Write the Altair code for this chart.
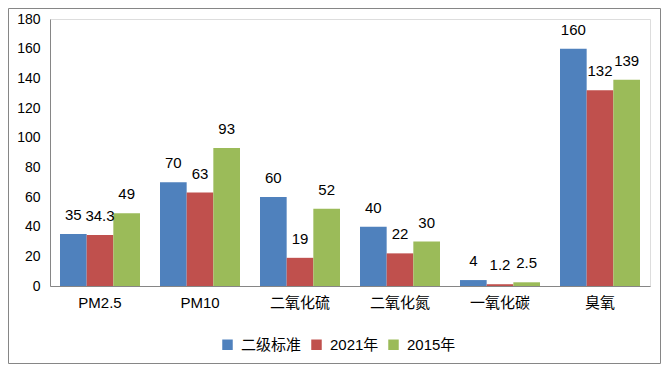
import altair as alt
import pandas as pd

categories = ["PM2.5", "PM10", "二氧化硫", "二氧化氮", "一氧化碳", "臭氧"]
series = ["二级标准", "2021年", "2015年"]
std_vals = [35, 70, 60, 40, 4, 160]
y2021_vals = [34.3, 63, 19, 22, 1.2, 132]
y2015_vals = [49, 93, 52, 30, 2.5, 139]
colors = ["#4F81BD", "#C0504D", "#9BBB59"]
y_ticks = [0, 20, 40, 60, 80, 100, 120, 140, 160, 180]

rows = []
for s, vals in zip(series, [std_vals, y2021_vals, y2015_vals]):
    for c, v in zip(categories, vals):
        rows.append({"cat": c, "series": s, "value": v, "label": f"{v:g}"})
df = pd.DataFrame(rows)

FONT = "Liberation Sans, Noto Sans CJK SC, sans-serif"
GRAY = "#868686"

base = alt.Chart(df).encode(
    x=alt.X("cat:N", sort=categories, title=None,
            scale=alt.Scale(paddingInner=0.2, paddingOuter=0.1),
            axis=alt.Axis(labelAngle=0, ticks=False, domainColor=GRAY,
                          labelFontSize=15, labelFont=FONT, labelColor="#000000",
                          labelPadding=9, grid=False)),
    xOffset=alt.XOffset("series:N", sort=series),
    y=alt.Y("value:Q", title=None,
            scale=alt.Scale(domain=[0, 180], nice=False),
            axis=alt.Axis(values=y_ticks, ticks=False, grid=False, domainColor=GRAY,
                          labelFontSize=14, labelFont=FONT, labelColor="#000000",
                          labelPadding=10)),
)

bars = base.mark_bar().encode(
    color=alt.Color("series:N", sort=series,
                    scale=alt.Scale(domain=series, range=colors),
                    legend=alt.Legend(title=None, orient="none", direction="horizontal",
                                      legendX=170, legendY=318,
                                      symbolType="square", symbolSize=110,
                                      symbolStrokeWidth=0,
                                      labelFontSize=15, labelFont=FONT, labelColor="#000000",
                                      labelOffset=6, columnPadding=7)),
)

labels = base.mark_text(dy=-19, baseline="middle", align="center",
                        fontSize=15, font=FONT, color="#000000").encode(
    text="label:N"
)

border = alt.Chart(pd.DataFrame({"a": [0]})).mark_rect(
    fill="transparent", stroke=GRAY, strokeWidth=1
).encode(
    x=alt.value(-41.5), x2=alt.value(610.5),
    y=alt.value(-10.5), y2=alt.value(344.5),
)

chart = alt.layer(bars, labels, border).properties(
    width=600, height=267,
    autosize=alt.AutoSizeParams(type="none"),
    padding={"left": 42, "top": 11, "right": 11, "bottom": 78},
).configure_view(strokeWidth=0).configure(background="white")

chart.save("out.html", embed_options={"renderer": "svg", "actions": False})
